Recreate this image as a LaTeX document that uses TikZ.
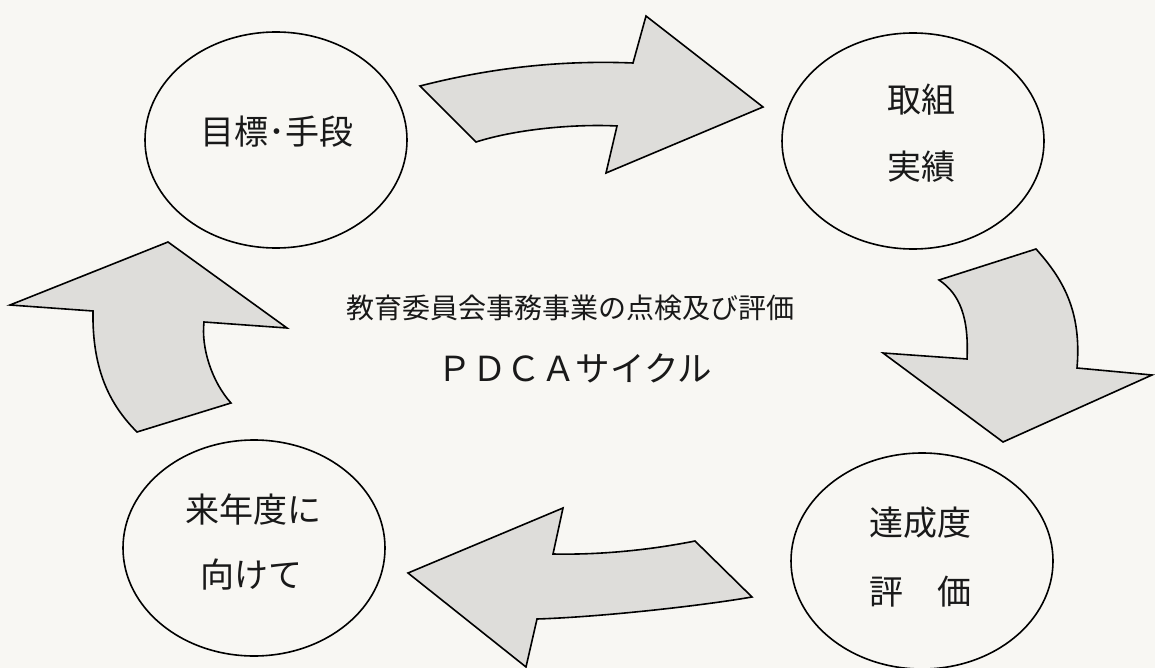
\documentclass[tikz,border=0pt]{standalone}
\usepackage{fontspec}
\setmainfont{Noto Sans CJK JP}
\usetikzlibrary{shapes.geometric}
\definecolor{paper}{RGB}{248,247,243}
\definecolor{arrowfill}{RGB}{222,221,218}
\begin{document}
\begin{tikzpicture}[x=1pt,y=-1pt,
  bubble/.style={draw=black,line width=1.6pt,ellipse,minimum width=262pt,minimum height=216pt,inner sep=0pt},
  blockarrow/.style={draw=black,fill=arrowfill,line width=1.6pt,line join=miter},
  txt/.style={inner sep=0pt,text=black!90,font=\fontsize{34}{36}\selectfont},
  ctxt/.style={inner sep=0pt,text=black!90,font=\fontsize{28}{30}\selectfont},
  ptxt/.style={inner sep=0pt,text=black!90,font=\fontsize{34.5}{36}\selectfont}]
\fill[paper] (0,0) rectangle (1155,668);
\useasboundingbox (0,0) rectangle (1155,668);

% ellipses
\node[bubble] (plan) at (276,140) {};
\node[bubble] (do) at (913,141) {};
\node[bubble] (check) at (922,561) {};
\node[bubble] (act) at (254,548) {};

% texts
\node[txt] (tplan) at (277,132) {目標･手段};
\node[txt] (tdo1) at (921,100) {取組};
\node[txt] (tdo2) at (921,167) {実績};
\node[txt] (tch1) at (920,523) {達成度};
\node[txt] (tch2) at (920,592) {評\hspace{34pt}価};
\node[txt] (tact1) at (253,510) {来年度に};
\node[txt] (tact2) at (251,575) {向けて};
\node[ctxt] (title) at (570,308) {教育委員会事務事業の点検及び評価};
\node[ptxt] (pdca) at (575,368) {ＰＤＣＡサイクル};

% block arrows
\draw[blockarrow] (420,86) .. controls (490,68) and (560,60) .. (633,63)
  -- (646,16) -- (763,107) -- (606,173) -- (617,126)
  .. controls (580,124) and (520,128) .. (476,142) -- cycle;

\draw[blockarrow] (939,280) -- (1036,249)
  .. controls (1062,278) and (1082,310) .. (1077,368)
  -- (1152,375) -- (1003,442) -- (883,353) -- (967,359)
  .. controls (969,318) and (960,294) .. (939,280) -- cycle;

\draw[blockarrow] (408,573) -- (563,508) -- (553,554)
  .. controls (600,555) and (650,550) .. (695,541)
  -- (752,597) .. controls (700,606) and (600,617) .. (537,619)
  -- (526,667) -- cycle;

\draw[blockarrow] (168,242) -- (287,328) -- (204,322)
  .. controls (201,348) and (212,382) .. (231,403)
  -- (137,432) .. controls (110,405) and (92,370) .. (93,311)
  -- (10,305) -- cycle;
\end{tikzpicture}
\end{document}
